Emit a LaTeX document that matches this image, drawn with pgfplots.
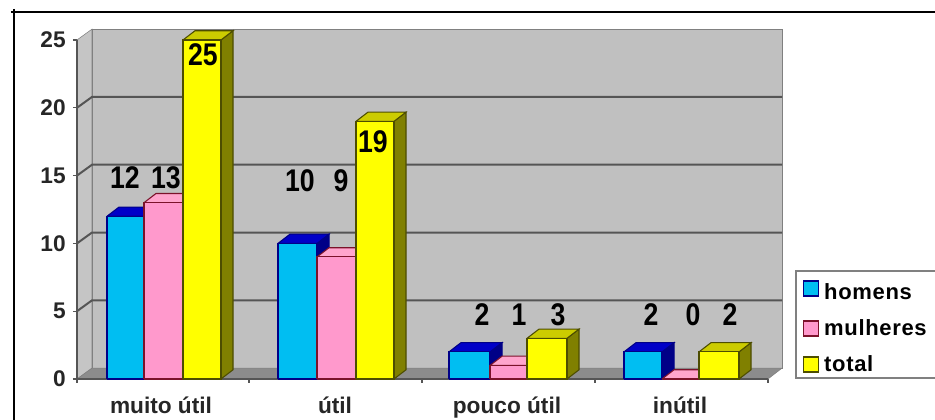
\documentclass[border=0pt]{standalone}
\usepackage{pgfplots}
\pgfplotsset{compat=1.18}
\usepackage{fontspec}
\setmainfont{Liberation Sans}
\newfontfamily\legfont[LetterSpace=3]{Liberation Sans}
\definecolor{wall}{RGB}{192,192,192}
\definecolor{gridc}{RGB}{85,85,85}
\definecolor{bluef}{RGB}{0,190,242}
\definecolor{bluet}{RGB}{0,0,200}
\definecolor{blues}{RGB}{0,0,135}
\definecolor{pinkf}{RGB}{255,153,204}
\definecolor{pinkt}{RGB}{255,165,205}
\definecolor{pinks}{RGB}{205,30,70}
\definecolor{yellf}{RGB}{255,255,0}
\definecolor{yellt}{RGB}{204,204,0}
\definecolor{yells}{RGB}{128,128,0}
% x is in picture pixels, y in chart units
\newcommand{\cuboid}[5]{% prefix, edge, x0, x1, value
  \pgfmathsetmacro{\xa}{#3+12}
  \pgfmathsetmacro{\xb}{#4+12}
  \pgfmathsetmacro{\yb}{#5+0.68}
  \addplot[forget plot,fill=#1s,draw=#2,line width=0.8pt] coordinates {(#4,0) (\xb,0.68) (\xb,\yb) (#4,#5) (#4,0)};
  \addplot[forget plot,fill=#1t,draw=#2,line width=0.8pt] coordinates {(#3,#5) (\xa,\yb) (\xb,\yb) (#4,#5) (#3,#5)};
  \addplot[forget plot,fill=#1f,draw=#2,line width=0.8pt] coordinates {(#3,0) (#3,#5) (#4,#5) (#4,0) (#3,0)};
}
\newcommand{\gline}[1]{%
  \pgfmathsetmacro{\yg}{#1+0.8}
  \addplot[forget plot,gridc,line width=1.5pt] coordinates {(77,#1) (92,\yg) (782,\yg)};
}
\pgfplotstableread{
x y label
125 14.82 12
166 14.82 13
203 23.89 25
300 14.60 10
341 14.60 9
373 17.48 19
482 4.72 2
519 4.72 1
558 4.72 3
651 4.72 2
693 4.72 0
730 4.72 2
}\labels
\begin{document}
\begin{tikzpicture}[x=0.75pt,y=0.75pt]
\path[use as bounding box] (-77,-41) rectangle (858,379);
\draw[black,line width=1.3pt] (-66,367) -- (858,367);
\draw[black,line width=1.3pt] (-63,370) -- (-63,-41);
\begin{axis}[
  at={(0,0)}, anchor=origin,
  scale only axis,
  width=528.75pt, height=262.4pt,
  xmin=77, xmax=782, ymin=0, ymax=25.8,
  clip=false,
  axis line style={draw=none},
  xtick={161,335,507,680},
  xticklabels={muito útil,útil,pouco útil,inútil},
  minor xtick={77,249,422,595,768},
  xtick pos=bottom, ytick pos=left,
  ytick={0,5,...,25},
  tick align=outside,
  major x tick style={draw=none},
  major tick length=3pt,
  minor tick length=3pt,
  every tick/.style={gridc,line width=0.9pt},
  tick label style={font=\fontsize{17}{18}\selectfont\bfseries,text=black!85},
  /pgf/number format/assume math mode=true,
  xticklabel style={yshift=-7pt},
  yticklabel style={xshift=-2pt},
  legend style={
    at={(axis cs:795,0)}, anchor=south west,
    draw=gray, line width=1.4pt, fill=white,
    font=\legfont\fontsize{16.5}{18}\selectfont\bfseries,
    row sep=9.5pt, inner xsep=5pt, inner ysep=1.5pt,
    cells={anchor=west},
  },
  legend image code/.code={\draw[#1,line width=1pt] (0pt,-5.6pt) rectangle (11.2pt,5.6pt);},
  legend entries={\rule{0pt}{18pt}\hspace{2pt}homens\hspace{70pt},\hspace{2pt}mulheres\hspace{70pt},\hspace{2pt}total\hspace{70pt}},
]
\addlegendimage{fill=bluef,draw=blues}
\addlegendimage{fill=pinkf,draw=pinks!60!black}
\addlegendimage{fill=yellf,draw=yells!60!black}

% back wall, side wall, floor
\addplot[forget plot,fill=wall,draw=gray] coordinates {(92,0.8) (92,25.8) (782,25.8) (782,0.8) (92,0.8)};
\addplot[forget plot,fill=wall!92!white,draw=gray] coordinates {(77,0) (92,0.8) (92,25.8) (77,25) (77,0)};
\gline{5}
\gline{10}
\gline{15}
\gline{20}
\addplot[forget plot,fill=gray!90,draw=gray] coordinates {(77,0) (92,0.8) (782,0.8) (768,0) (77,0)};
\addplot[forget plot,gridc,line width=1pt] coordinates {(77,25) (77,0) (768,0)};

\cuboid{blue}{blues}{107}{144}{12}
\cuboid{pink}{pinks!60!black}{144}{183}{13}
\cuboid{yell}{yells!60!black}{183}{221}{25}
\cuboid{blue}{blues}{278}{317}{10}
\cuboid{pink}{pinks!60!black}{317}{356}{9}
\cuboid{yell}{yells!60!black}{356}{394}{19}
\cuboid{blue}{blues}{449}{490}{2}
\cuboid{pink}{pinks!60!black}{490}{527}{1}
\cuboid{yell}{yells!60!black}{527}{567}{3}
\cuboid{blue}{blues}{624}{662}{2}
\cuboid{pink}{pinks!60!black}{662}{699}{0}
\cuboid{yell}{yells!60!black}{699}{739}{2}

% value labels
\addplot[forget plot,only marks,mark=none,
  point meta=explicit symbolic,
  nodes near coords,
  nodes near coords style={anchor=center,inner sep=0pt,xscale=0.85,
    font=\fontsize{23.5}{25}\selectfont\bfseries,text=black},
] table[x=x,y=y,meta=label] {\labels};
\end{axis}
\end{tikzpicture}
\end{document}
